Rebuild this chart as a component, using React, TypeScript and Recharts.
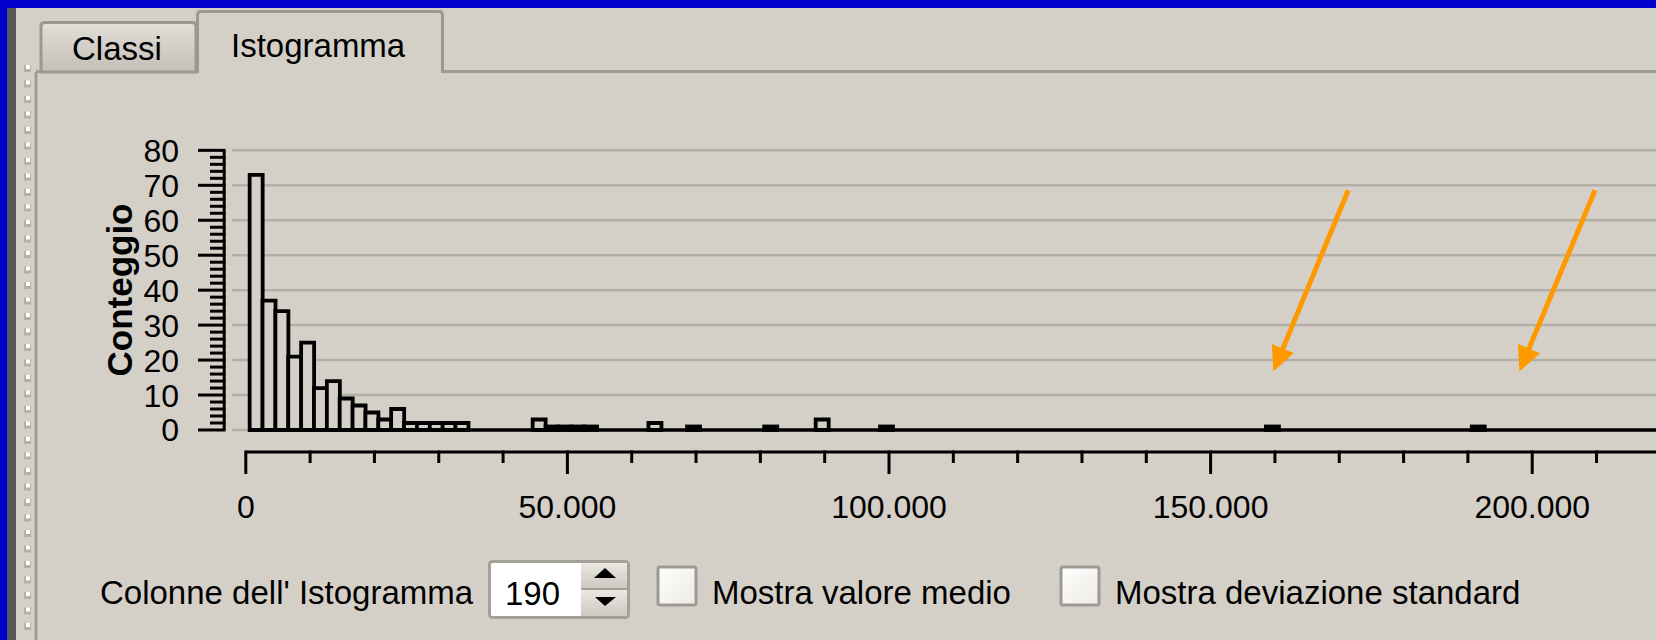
import React from 'react';
import { ComposedChart, Bar, XAxis, YAxis, CartesianGrid, ReferenceLine } from 'recharts';

// Histogram: 190 columns, each bin is 2000 wide, first bin starts at 600
const binStart = 600;
const binWidth = 2000;
const binIndex = [0, 1, 2, 3, 4, 5, 6, 7, 8, 9, 10, 11, 12, 13, 14, 15, 16, 22, 23, 24, 25, 26, 31, 34, 40, 44, 49, 79, 95];
const binCounts = [73, 37, 34, 21, 25, 12, 14, 9, 7, 5, 3, 6, 2, 2, 2, 2, 2, 3, 1, 1, 1, 1, 2, 1, 1, 3, 1, 1, 1];

const xTicks = [
  0, 10000, 20000, 30000, 40000, 50000, 60000, 70000, 80000, 90000, 100000,
  110000, 120000, 130000, 140000, 150000, 160000, 170000, 180000, 190000, 200000, 210000,
];
const yTicks = [
  0, 2, 4, 6, 8, 10, 12, 14, 16, 18, 20, 22, 24, 26, 28, 30, 32, 34, 36, 38, 40,
  42, 44, 46, 48, 50, 52, 54, 56, 58, 60, 62, 64, 66, 68, 70, 72, 74, 76, 78, 80,
];
const yGridValues = [0, 10, 20, 30, 40, 50, 60, 70, 80];

// annotation arrows (data coordinates): start -> tip
const arrowStarts = [[171400, 68.6], [209760, 68.6]];
const arrowTips = [[159750, 16.7], [198000, 16.7]];

const xDomain = [-2145, 219245];
const yDomain = [-6.3, 80.1];
const yAxisLineX = -3360;

const chartData = binIndex.map((b, i) => ({
  x: binStart + binWidth * b + binWidth / 2,
  count: binCounts[i],
}));

const FONT = '"Liberation Sans", Arial, sans-serif';
const BG = '#d4d0c8';

const fmt = (v: number) => String(v).replace(/\B(?=(\d{3})+(?!\d))/g, '.');

const YTick = (props: any) => {
  const { x, y, payload } = props;
  const major = payload.value % 10 === 0;
  const axisX = x - 8;
  return (
    <g>
      <line x1={axisX - (major ? 26 : 14)} x2={axisX + 1.5} y1={y} y2={y} stroke="#000" strokeWidth={3} />
      {major && (
        <text x={axisX - 45} y={y} dy="0.36em" textAnchor="end" fontFamily={FONT} fontSize={32} fill="#000">
          {payload.value}
        </text>
      )}
    </g>
  );
};

const XTick = (props: any) => {
  const { x, y, payload } = props;
  const major = payload.value % 50000 === 0;
  return (
    <g>
      <line x1={x} x2={x} y1={y - 1.5} y2={y + (major ? 22 : 11)} stroke="#000" strokeWidth={3} />
      {major && (
        <text x={x} y={y + 66} textAnchor="middle" fontFamily={FONT} fontSize={32} fill="#000">
          {fmt(payload.value)}
        </text>
      )}
    </g>
  );
};

const Arrow = (props: any) => {
  const { x1, y1, x2, y2 } = props;
  const dx = x2 - x1;
  const dy = y2 - y1;
  const len = Math.hypot(dx, dy) || 1;
  const ux = dx / len;
  const uy = dy / len;
  const headLen = 25;
  const headHalf = 12;
  const bx = x2 - ux * headLen;
  const by = y2 - uy * headLen;
  return (
    <g>
      <line x1={x1} y1={y1} x2={bx + ux * 2} y2={by + uy * 2} stroke="#ff9900" strokeWidth={5} />
      <polygon
        points={`${x2},${y2} ${bx - uy * headHalf},${by + ux * headHalf} ${bx + uy * headHalf},${by - ux * headHalf}`}
        fill="#ff9900"
      />
    </g>
  );
};

const yLabel = () => (
  <text
    transform="translate(132,290) rotate(-90)"
    textAnchor="middle"
    fontFamily={FONT}
    fontWeight="bold"
    fontSize={35}
    fill="#000"
  >
    Conteggio
  </text>
);

const gripDots = Array.from({ length: 37 }, (_, i) => 65 + i * 15.5);

const Chrome = () => (
  <svg width={1656} height={640} style={{ position: 'absolute', left: 0, top: 0 }}>
    <defs>
      <linearGradient id="tabOff" x1="0" y1="0" x2="0" y2="1">
        <stop offset="0" stopColor="#e2dfd8" />
        <stop offset="1" stopColor="#c3bfb7" />
      </linearGradient>
      <linearGradient id="btn" x1="0" y1="0" x2="0" y2="1">
        <stop offset="0" stopColor="#ebe8e2" />
        <stop offset="1" stopColor="#cdc9c1" />
      </linearGradient>
      <linearGradient id="chk" x1="0" y1="0" x2="1" y2="1">
        <stop offset="0" stopColor="#ffffff" />
        <stop offset="1" stopColor="#eceae4" />
      </linearGradient>
    </defs>
    <rect x={0} y={0} width={1656} height={640} fill={BG} />
    <rect x={0} y={0} width={1656} height={8} fill="#0000cc" />
    <rect x={0} y={0} width={7} height={640} fill="#0000cc" />
    <rect x={7} y={8} width={9} height={632} fill="#585858" />
    {gripDots.map((y) => (
      <g key={y}>
        <rect x={24} y={y} width={7} height={7} fill="#b5b1a9" />
        <rect x={26} y={y} width={4} height={4} fill="#ffffff" />
      </g>
    ))}
    <line x1={36} y1={72} x2={36} y2={640} stroke="#a09c94" strokeWidth={3} />
    <line x1={36} y1={71.5} x2={198} y2={71.5} stroke="#a09c94" strokeWidth={3} />
    <line x1={442} y1={71.5} x2={1656} y2={71.5} stroke="#a09c94" strokeWidth={3} />

    <path d="M41 72 L41 26 Q41 22.5 45 22.5 L192 22.5 Q196 22.5 196 26 L196 72 Z" fill="url(#tabOff)" stroke="#9c988f" strokeWidth={3} />
    <text x={72} y={60} fontFamily={FONT} fontSize={33} fill="#000">Classi</text>

    <path d="M197.5 73 L197.5 15 Q197.5 11.5 201 11.5 L439 11.5 Q442.5 11.5 442.5 15 L442.5 73" fill={BG} stroke="#9c988f" strokeWidth={3} />
    <text x={231} y={57} fontFamily={FONT} fontSize={33} fill="#000">Istogramma</text>

    <text x={100} y={604} fontFamily={FONT} fontSize={33} fill="#000">Colonne dell' Istogramma</text>
    <rect x={489.5} y={561.5} width={139} height={56} rx={3} fill="#ffffff" stroke="#a4a098" strokeWidth={3} />
    <rect x={581} y={563} width={46} height={25} fill="url(#btn)" />
    <rect x={581} y={590} width={46} height={26} fill="url(#btn)" />
    <line x1={581} y1={589} x2={627} y2={589} stroke="#a4a098" strokeWidth={2} />
    <polygon points="605,568 594,578 616,578" fill="#000" />
    <polygon points="595,597 616,597 605,606" fill="#000" />
    <text x={505} y={605} fontFamily={FONT} fontSize={33} fill="#000">190</text>

    <rect x={658} y={567} width={38} height={38} rx={2} fill="url(#chk)" stroke="#9c9a94" strokeWidth={3} />
    <text x={712} y={604} fontFamily={FONT} fontSize={33} fill="#000">Mostra valore medio</text>
    <rect x={1061} y={567} width={38} height={38} rx={2} fill="url(#chk)" stroke="#9c9a94" strokeWidth={3} />
    <text x={1115} y={604} fontFamily={FONT} fontSize={33} fill="#000">Mostra deviazione standard</text>
  </svg>
);

export default function App() {
  return (
    <div style={{ position: 'absolute', left: 0, top: 0, width: 1656, height: 640, overflow: 'hidden', background: BG }}>
      <Chrome />
      <div style={{ position: 'absolute', left: 0, top: 0 }}>
        <ComposedChart
          width={1656}
          height={640}
          data={chartData}
          margin={{ top: 150, right: 0, bottom: 0, left: 0 }}
          barCategoryGap={0}
          barGap={0}
        >
          <CartesianGrid horizontal vertical={false} horizontalValues={yGridValues} stroke="#b3afa7" strokeWidth={2.5} />
          <XAxis
            type="number"
            dataKey="x"
            domain={xDomain}
            allowDataOverflow
            ticks={xTicks}
            interval={0}
            height={188}
            axisLine={false}
            tickLine={false}
            tickSize={0}
            tickMargin={0}
            tick={XTick}
          />
          <YAxis
            type="number"
            domain={yDomain}
            allowDataOverflow
            ticks={yTicks}
            interval={0}
            width={232}
            axisLine={false}
            tickLine={false}
            tickSize={0}
            tickMargin={0}
            tick={YTick}
            label={yLabel}
          />
          <Bar dataKey="count" fill={BG} stroke="#000" strokeWidth={3.8} isAnimationActive={false} />
          <ReferenceLine
            segment={[{ x: binStart, y: 0 }, { x: xDomain[1], y: 0 }]}
            stroke="#000"
            strokeWidth={3.5}
            ifOverflow="visible"
          />
          <ReferenceLine
            segment={[{ x: 0, y: yDomain[0] }, { x: xDomain[1], y: yDomain[0] }]}
            stroke="#000"
            strokeWidth={3}
            ifOverflow="visible"
          />
          <ReferenceLine
            segment={[{ x: yAxisLineX, y: 0 }, { x: yAxisLineX, y: 80 }]}
            stroke="#000"
            strokeWidth={3}
            ifOverflow="visible"
          />
          {arrowStarts.map((s, i) => (
            <ReferenceLine
              key={i}
              segment={[{ x: s[0], y: s[1] }, { x: arrowTips[i][0], y: arrowTips[i][1] }]}
              shape={Arrow}
              ifOverflow="visible"
            />
          ))}
        </ComposedChart>
      </div>
    </div>
  );
}
